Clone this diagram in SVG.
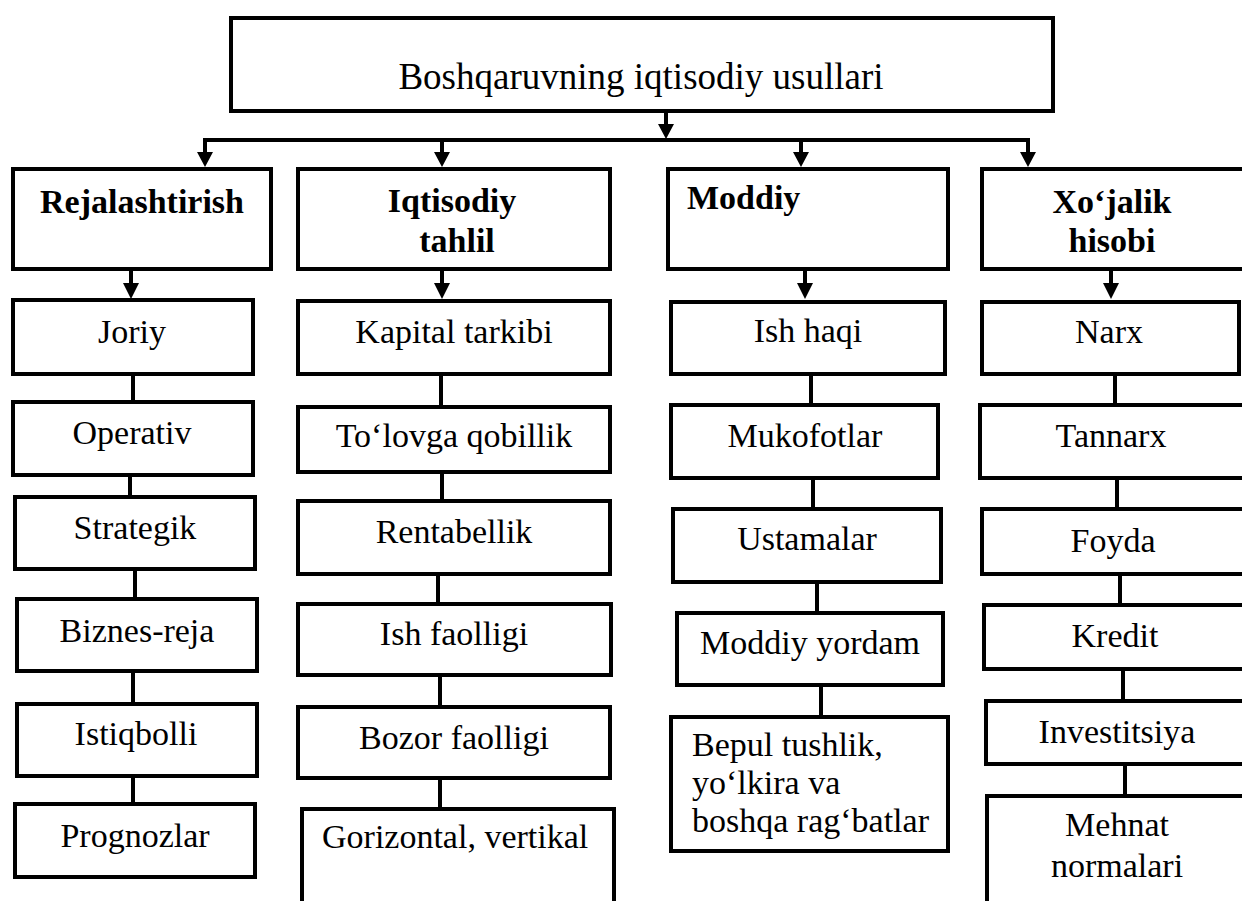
<svg xmlns="http://www.w3.org/2000/svg" width="1242" height="901" viewBox="0 0 1242 901">
  <defs>
    <style>
      .box { fill: #ffffff; stroke: #000000; stroke-width: 4; }
      .ln { fill: none; stroke: #000000; stroke-width: 4; }
      .ah { fill: #000000; stroke: none; }
      .t { font-family: "Liberation Serif", "Times New Roman", serif; font-size: 34px; fill: #000000; }
      .c { text-anchor: middle; }
      .b { font-weight: bold; }
      .title { font-size: 37px; }
    </style>
  </defs>
  <rect width="1242" height="901" fill="#ffffff"/>

  <!-- connectors -->
  <g id="connectors">
    <!-- root to distribution bar -->
    <line class="ln" x1="666" y1="113" x2="666" y2="125"/>
    <polygon class="ah" points="658,124 674,124 666,139"/>
    <line class="ln" x1="203" y1="140" x2="1030" y2="140"/>
    <!-- bar to column headers -->
    <line class="ln" x1="205" y1="140" x2="205" y2="153"/>
    <polygon class="ah" points="197,152 213,152 205,167"/>
    <line class="ln" x1="442" y1="140" x2="442" y2="153"/>
    <polygon class="ah" points="434,152 450,152 442,167"/>
    <line class="ln" x1="801" y1="140" x2="801" y2="153"/>
    <polygon class="ah" points="793,152 809,152 801,167"/>
    <line class="ln" x1="1028" y1="140" x2="1028" y2="153"/>
    <polygon class="ah" points="1020,152 1036,152 1028,167"/>
    <!-- headers to first items -->
    <line class="ln" x1="131" y1="271" x2="131" y2="284"/>
    <polygon class="ah" points="123,283 139,283 131,299"/>
    <line class="ln" x1="442" y1="271" x2="442" y2="284"/>
    <polygon class="ah" points="434,283 450,283 442,299"/>
    <line class="ln" x1="805" y1="271" x2="805" y2="284"/>
    <polygon class="ah" points="797,283 813,283 805,299"/>
    <line class="ln" x1="1111" y1="271" x2="1111" y2="284"/>
    <polygon class="ah" points="1103,283 1119,283 1111,299"/>
    <!-- column 1 links -->
    <line class="ln" x1="133" y1="376" x2="133" y2="400"/>
    <line class="ln" x1="130" y1="477" x2="130" y2="495"/>
    <line class="ln" x1="135" y1="571" x2="135" y2="597"/>
    <line class="ln" x1="133" y1="673" x2="133" y2="702"/>
    <line class="ln" x1="133" y1="778" x2="133" y2="802"/>
    <!-- column 2 links -->
    <line class="ln" x1="441" y1="376" x2="441" y2="405"/>
    <line class="ln" x1="442" y1="474" x2="442" y2="499"/>
    <line class="ln" x1="438" y1="576" x2="438" y2="602"/>
    <line class="ln" x1="440" y1="677" x2="440" y2="705"/>
    <line class="ln" x1="440" y1="780" x2="440" y2="807"/>
    <!-- column 3 links -->
    <line class="ln" x1="811" y1="376" x2="811" y2="403"/>
    <line class="ln" x1="813" y1="480" x2="813" y2="507"/>
    <line class="ln" x1="817" y1="584" x2="817" y2="611"/>
    <line class="ln" x1="821" y1="687" x2="821" y2="715"/>
    <!-- column 4 links -->
    <line class="ln" x1="1115" y1="376" x2="1115" y2="403"/>
    <line class="ln" x1="1117" y1="480" x2="1117" y2="507"/>
    <line class="ln" x1="1120" y1="576" x2="1120" y2="603"/>
    <line class="ln" x1="1123" y1="671" x2="1123" y2="699"/>
    <line class="ln" x1="1125" y1="766" x2="1125" y2="794"/>
  </g>

  <!-- root -->
  <g id="root">
    <rect class="box" x="231" y="18" width="822" height="93"/>
    <text class="t c title" x="641" y="89">Boshqaruvning iqtisodiy usullari</text>
  </g>

  <!-- column headers -->
  <g id="h-rejalashtirish">
    <rect class="box" x="13" y="169" width="258" height="100"/>
    <text class="t c b" x="142" y="213">Rejalashtirish</text>
  </g>
  <g id="h-iqtisodiy-tahlil">
    <rect class="box" x="298" y="169" width="312" height="100"/>
    <text class="t c b" x="452" y="212">Iqtisodiy</text>
    <text class="t c b" x="457" y="252">tahlil</text>
  </g>
  <g id="h-moddiy">
    <rect class="box" x="668" y="169" width="280" height="100"/>
    <text class="t b" x="687" y="209">Moddiy</text>
  </g>
  <g id="h-xojalik-hisobi">
    <rect class="box" x="982" y="169" width="300" height="100"/>
    <text class="t c b" x="1112" y="213">Xo‘jalik</text>
    <text class="t c b" x="1112" y="252">hisobi</text>
  </g>

  <!-- column 1 -->
  <g id="n-joriy">
    <rect class="box" x="13" y="300" width="240" height="74"/>
    <text class="t c" x="132" y="343">Joriy</text>
  </g>
  <g id="n-operativ">
    <rect class="box" x="13" y="402" width="240" height="73"/>
    <text class="t c" x="132" y="444">Operativ</text>
  </g>
  <g id="n-strategik">
    <rect class="box" x="15" y="497" width="240" height="72"/>
    <text class="t c" x="135" y="539">Strategik</text>
  </g>
  <g id="n-biznes-reja">
    <rect class="box" x="17" y="599" width="240" height="72"/>
    <text class="t c" x="137" y="642">Biznes-reja</text>
  </g>
  <g id="n-istiqbolli">
    <rect class="box" x="17" y="704" width="240" height="72"/>
    <text class="t c" x="136" y="745">Istiqbolli</text>
  </g>
  <g id="n-prognozlar">
    <rect class="box" x="15" y="804" width="240" height="73"/>
    <text class="t c" x="135" y="847">Prognozlar</text>
  </g>

  <!-- column 2 -->
  <g id="n-kapital">
    <rect class="box" x="298" y="301" width="312" height="73"/>
    <text class="t c" x="454" y="343">Kapital tarkibi</text>
  </g>
  <g id="n-tolov">
    <rect class="box" x="298" y="407" width="312" height="65"/>
    <text class="t c" x="454" y="447">To‘lovga qobillik</text>
  </g>
  <g id="n-rentabellik">
    <rect class="box" x="298" y="501" width="312" height="73"/>
    <text class="t c" x="454" y="543">Rentabellik</text>
  </g>
  <g id="n-ish-faolligi">
    <rect class="box" x="298" y="604" width="313" height="71"/>
    <text class="t c" x="454" y="645">Ish faolligi</text>
  </g>
  <g id="n-bozor-faolligi">
    <rect class="box" x="298" y="707" width="312" height="71"/>
    <text class="t c" x="454" y="749">Bozor faolligi</text>
  </g>
  <g id="n-gorizontal">
    <rect class="box" x="302" y="809" width="312" height="140"/>
    <text class="t" x="322" y="848">Gorizontal, vertikal</text>
  </g>

  <!-- column 3 -->
  <g id="n-ish-haqi">
    <rect class="box" x="671" y="302" width="274" height="72"/>
    <text class="t c" x="808" y="342">Ish haqi</text>
  </g>
  <g id="n-mukofotlar">
    <rect class="box" x="671" y="405" width="267" height="73"/>
    <text class="t c" x="805" y="447">Mukofotlar</text>
  </g>
  <g id="n-ustamalar">
    <rect class="box" x="673" y="509" width="268" height="73"/>
    <text class="t c" x="807" y="550">Ustamalar</text>
  </g>
  <g id="n-moddiy-yordam">
    <rect class="box" x="677" y="613" width="266" height="72"/>
    <text class="t c" x="810" y="654">Moddiy yordam</text>
  </g>
  <g id="n-bepul">
    <rect class="box" x="671" y="717" width="277" height="134"/>
    <text class="t" x="692" y="756">Bepul tushlik,</text>
    <text class="t" x="692" y="794">yo‘lkira va</text>
    <text class="t" x="692" y="832">boshqa rag‘batlar</text>
  </g>

  <!-- column 4 -->
  <g id="n-narx">
    <rect class="box" x="982" y="302" width="257" height="72"/>
    <text class="t c" x="1109" y="343">Narx</text>
  </g>
  <g id="n-tannarx">
    <rect class="box" x="980" y="405" width="300" height="73"/>
    <text class="t c" x="1111" y="447">Tannarx</text>
  </g>
  <g id="n-foyda">
    <rect class="box" x="982" y="509" width="300" height="65"/>
    <text class="t c" x="1113" y="552">Foyda</text>
  </g>
  <g id="n-kredit">
    <rect class="box" x="984" y="605" width="300" height="64"/>
    <text class="t c" x="1115" y="647">Kredit</text>
  </g>
  <g id="n-investitsiya">
    <rect class="box" x="986" y="701" width="300" height="63"/>
    <text class="t c" x="1117" y="743">Investitsiya</text>
  </g>
  <g id="n-mehnat">
    <rect class="box" x="987" y="796" width="300" height="200"/>
    <text class="t c" x="1117" y="836">Mehnat</text>
    <text class="t c" x="1117" y="877">normalari</text>
  </g>
</svg>
